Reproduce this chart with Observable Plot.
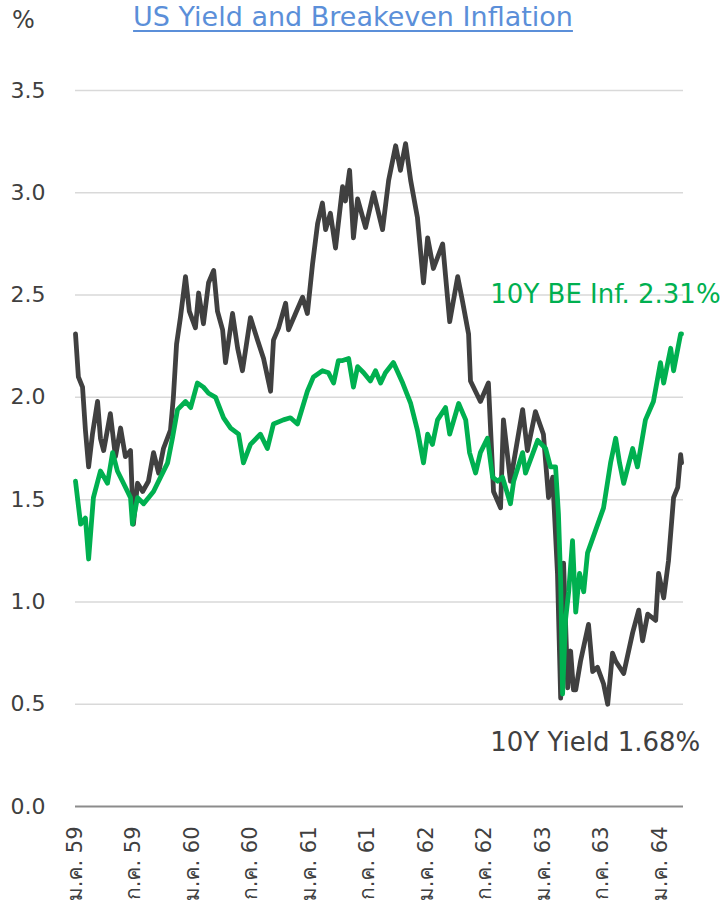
<!DOCTYPE html>
<html>
<head>
<meta charset="utf-8">
<script src="https://cdn.jsdelivr.net/npm/d3@7"></script>
<script src="https://cdn.jsdelivr.net/npm/@observablehq/plot@0.6"></script>
<style>
  html, body { margin: 0; padding: 0; background: #fff; }
  body { width: 725px; height: 907px; position: relative; overflow: hidden;
         font-family: "DejaVu Sans", "Loma", "Noto Sans Thai Looped", "Garuda", "Noto Sans Thai", sans-serif; }
  #pct { position: absolute; left: 12px; top: 6px; font-size: 24px; color: #404040; }
  #title { position: absolute; left: 0; width: 706px; top: 1px; text-align: center;
           font-size: 27px; color: #5B8FD9; text-decoration: underline; text-underline-offset: 4px; }
  #chart { position: absolute; left: 0; top: 45px; }
</style>
</head>
<body>
<div id="pct">%</div>
<div id="title">US Yield and Breakeven Inflation</div>
<div id="chart"></div>
<script>
// ---- data ----
const yieldDates = [
  "2016-01-01","2016-01-10","2016-01-23","2016-02-01","2016-02-11","2016-02-23","2016-03-10","2016-03-19","2016-03-29","2016-04-19",
  "2016-05-05","2016-05-21","2016-06-05","2016-06-21","2016-06-30","2016-07-13","2016-07-29","2016-08-16","2016-09-01","2016-09-17",
  "2016-10-02","2016-10-24","2016-11-02","2016-11-12","2016-11-24","2016-12-10","2016-12-22","2017-01-10","2017-01-20","2017-02-04",
  "2017-02-20","2017-03-08","2017-03-20","2017-04-05","2017-04-14","2017-05-06","2017-05-22","2017-06-06","2017-07-01","2017-07-23",
  "2017-08-11","2017-09-02","2017-09-11","2017-09-27","2017-10-19","2017-10-28","2017-11-19","2017-12-11","2017-12-26","2018-01-11",
  "2018-01-27","2018-02-11","2018-02-21","2018-03-08","2018-03-24","2018-04-15","2018-04-24","2018-05-07","2018-05-19","2018-06-01",
  "2018-06-26","2018-07-21","2018-08-18","2018-09-06","2018-09-28","2018-10-13","2018-10-29","2018-11-14","2018-12-05","2018-12-24",
  "2019-01-06","2019-01-24","2019-02-22","2019-03-16","2019-04-10","2019-04-25","2019-05-14","2019-05-20","2019-06-20","2019-07-15",
  "2019-07-31","2019-08-22","2019-08-31","2019-09-22","2019-10-30","2019-11-14","2019-12-09","2020-01-03","2020-01-19","2020-02-01",
  "2020-02-16","2020-02-26","2020-03-06","2020-03-19","2020-03-28","2020-04-06","2020-04-13","2020-04-28","2020-05-23","2020-06-05",
  "2020-06-20","2020-07-09","2020-07-22","2020-08-06","2020-08-16","2020-09-10","2020-10-08","2020-10-27","2020-11-08","2020-11-24",
  "2020-12-19","2020-12-28","2021-01-13","2021-01-28","2021-02-13","2021-02-26","2021-03-07","2021-03-10"
];
const yield10Y = [
  2.31,2.10,2.05,1.84,1.66,1.82,1.98,1.80,1.74,1.92,
  1.71,1.85,1.71,1.74,1.38,1.58,1.54,1.59,1.73,1.63,
  1.75,1.84,2.00,2.26,2.39,2.59,2.42,2.34,2.51,2.36,
  2.56,2.62,2.42,2.33,2.17,2.41,2.24,2.13,2.39,2.28,
  2.19,2.03,2.28,2.34,2.46,2.33,2.41,2.49,2.41,2.65,
  2.85,2.95,2.82,2.90,2.73,3.03,2.96,3.11,2.78,2.97,
  2.83,3.00,2.82,3.06,3.23,3.11,3.24,3.06,2.88,2.56,
  2.78,2.63,2.75,2.37,2.59,2.47,2.31,2.08,1.98,2.07,
  1.54,1.46,1.89,1.59,1.94,1.74,1.93,1.82,1.51,1.61,
  1.14,0.53,1.19,0.58,0.76,0.57,0.57,0.71,0.89,0.66,
  0.68,0.60,0.50,0.75,0.71,0.65,0.85,0.96,0.81,0.94,
  0.91,1.14,1.02,1.20,1.51,1.56,1.72,1.68
];
const beDates = [
  "2016-01-01","2016-01-17","2016-02-01","2016-02-11","2016-02-26","2016-03-19","2016-04-10","2016-04-26","2016-05-11","2016-05-30",
  "2016-06-21","2016-06-27","2016-07-13","2016-08-01","2016-09-01","2016-09-23","2016-10-15","2016-10-30","2016-11-15","2016-12-10",
  "2016-12-26","2017-01-16","2017-02-04","2017-02-20","2017-03-14","2017-04-08","2017-04-30","2017-05-25","2017-06-09","2017-07-01",
  "2017-08-01","2017-08-23","2017-09-11","2017-10-12","2017-11-03","2017-11-25","2017-12-26","2018-01-14","2018-02-11","2018-03-02",
  "2018-03-18","2018-04-02","2018-04-15","2018-05-04","2018-05-19","2018-06-01","2018-06-20","2018-07-11","2018-07-27","2018-08-12",
  "2018-08-27","2018-09-21","2018-10-20","2018-11-14","2018-12-05","2018-12-24","2019-01-06","2019-01-21","2019-02-06","2019-03-03",
  "2019-03-16","2019-04-13","2019-05-05","2019-05-17","2019-06-05","2019-06-20","2019-07-12","2019-07-28","2019-08-13","2019-08-28",
  "2019-09-22","2019-10-02","2019-10-30","2019-11-08","2019-12-16","2020-01-10","2020-01-25","2020-02-10","2020-02-19","2020-02-26",
  "2020-03-03","2020-03-12","2020-03-22","2020-04-03","2020-04-13","2020-04-25","2020-05-08","2020-05-20","2020-06-14","2020-07-09",
  "2020-07-31","2020-08-16","2020-08-28","2020-09-10","2020-10-08","2020-10-23","2020-11-17","2020-12-12","2021-01-03","2021-01-13",
  "2021-02-04","2021-02-13","2021-03-07","2021-03-10"
];
const breakeven10Y = [
  1.59,1.38,1.41,1.21,1.51,1.64,1.58,1.73,1.64,1.58,
  1.51,1.38,1.51,1.48,1.54,1.61,1.68,1.80,1.94,1.98,
  1.95,2.07,2.05,2.02,2.00,1.90,1.85,1.82,1.68,1.77,
  1.82,1.75,1.87,1.89,1.90,1.87,2.03,2.10,2.13,2.12,
  2.07,2.18,2.18,2.19,2.05,2.15,2.12,2.08,2.13,2.07,
  2.12,2.17,2.07,1.97,1.84,1.68,1.82,1.77,1.89,1.95,
  1.82,1.97,1.89,1.73,1.63,1.73,1.80,1.61,1.59,1.61,
  1.48,1.59,1.73,1.63,1.79,1.75,1.66,1.66,1.43,1.10,
  0.55,0.91,1.05,1.30,0.95,1.14,1.05,1.24,1.35,1.46,
  1.68,1.80,1.68,1.58,1.75,1.66,1.89,1.98,2.17,2.07,
  2.24,2.13,2.31,2.31
];
const yTicks = [0, 0.5, 1.0, 1.5, 2.0, 2.5, 3.0, 3.5];
const xTickDates = ["2016-01-01","2016-07-01","2017-01-01","2017-07-01","2018-01-01","2018-07-01","2019-01-01","2019-07-01","2020-01-01","2020-07-01","2021-01-01"];
const xTickLabels = ["ม.ค. 59","ก.ค. 59","ม.ค. 60","ก.ค. 60","ม.ค. 61","ก.ค. 61","ม.ค. 62","ก.ค. 62","ม.ค. 63","ก.ค. 63","ม.ค. 64"];
const beLabel = "10Y BE Inf. 2.31%";
const yieldLabel = "10Y Yield 1.68%";

// ---- build tables ----
const parse = d3.utcParse("%Y-%m-%d");
const yieldData = yieldDates.map((d, i) => ({date: parse(d), value: yield10Y[i]}));
const beData = beDates.map((d, i) => ({date: parse(d), value: breakeven10Y[i]}));
const xTicks = xTickDates.map(parse);
const labelOf = new Map(xTicks.map((d, i) => [+d, xTickLabels[i]]));

const GREEN = "#00B050";
const DARK = "#404040";
const FONT = '"DejaVu Sans", "Loma", "Noto Sans Thai Looped", "Garuda", "Noto Sans Thai", sans-serif';

const chart = Plot.plot({
  width: 725,
  height: 862,
  marginTop: 45,
  marginBottom: 101,
  marginLeft: 75,
  marginRight: 42,
  style: {fontFamily: FONT, color: DARK, background: "#fff"},
  x: {type: "utc", domain: [parse("2016-01-01"), parse("2021-03-16")]},
  y: {domain: [0, 3.5]},
  marks: [
    Plot.ruleY(yTicks.filter(d => d > 0), {stroke: "#d9d9d9", strokeWidth: 1.5}),
    Plot.ruleY([0], {stroke: "#8c8c8c", strokeWidth: 2}),
    Plot.axisY({ticks: yTicks, tickSize: 0, tickPadding: 30, tickFormat: d3.format(".1f"),
                fontSize: 22, fill: DARK, label: null}),
    Plot.axisX({ticks: xTicks, tickSize: 0, tickPadding: 20, tickRotate: -90,
                tickFormat: d => labelOf.get(+d), fontSize: 21, fill: DARK, label: null}),
    Plot.lineY(yieldData, {x: "date", y: "value", stroke: DARK, strokeWidth: 4.8, strokeLinejoin: "round", strokeLinecap: "round"}),
    Plot.lineY(beData, {x: "date", y: "value", stroke: GREEN, strokeWidth: 4.8, strokeLinejoin: "round", strokeLinecap: "round"}),
    Plot.text([beLabel], {x: () => parse("2019-07-21"), y: () => 2.5, text: d => d, textAnchor: "start",
               fill: GREEN, fontSize: 26}),
    Plot.text([yieldLabel], {x: () => parse("2019-07-21"), y: () => 0.31, text: d => d, textAnchor: "start",
               fill: DARK, fontSize: 26})
  ]
});
document.getElementById("chart").appendChild(chart);
</script>
</body>
</html>
